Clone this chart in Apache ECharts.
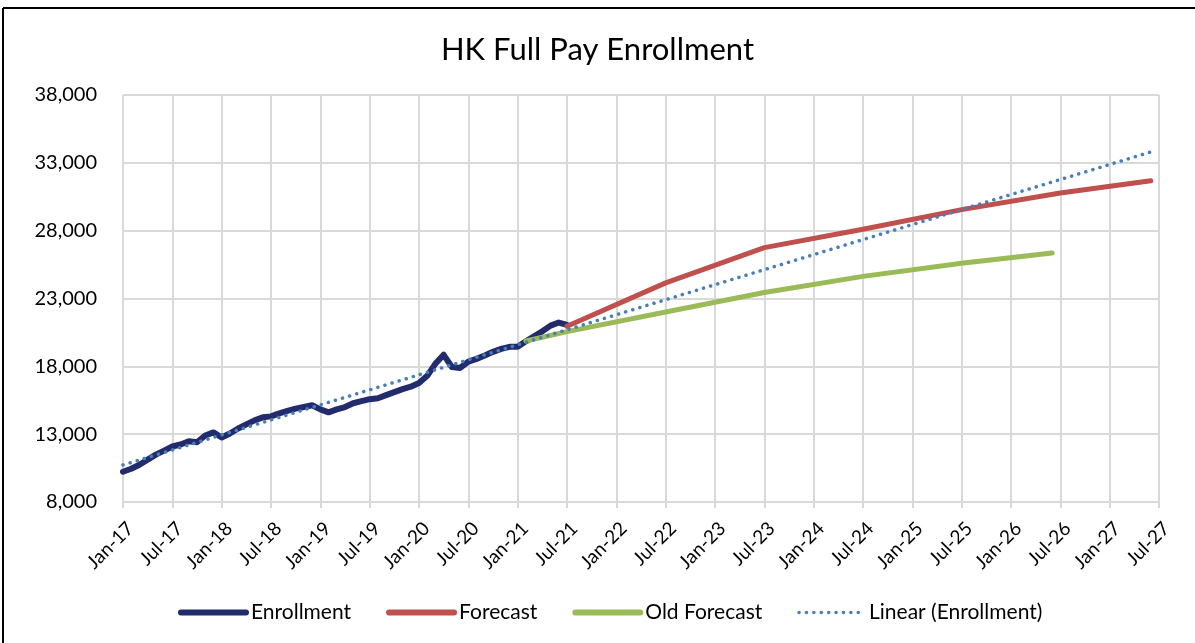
<!DOCTYPE html>
<html>
<head>
<meta charset="utf-8">
<script src="https://cdn.jsdelivr.net/npm/echarts@6/dist/echarts.min.js"></script>
<style>
html,body{margin:0;padding:0;background:#fff;}
#chart{width:1195px;height:643px;}
</style>
</head>
<body>
<div id="chart"></div>
<script>
// Monthly categories Jan-17 .. Jul-27
const monthNames = ['Jan','Feb','Mar','Apr','May','Jun','Jul','Aug','Sep','Oct','Nov','Dec'];
const categories = [];
for (let y = 17; y <= 27; y++) {
  for (let m = 0; m < 12; m++) {
    categories.push(monthNames[m] + '-' + y);
    if (y === 27 && m === 6) break;
  }
}

// Enrollment, monthly Jan-17 .. Jul-21
const enrollment = [
  10230, 10450, 10750, 11120, 11490, 11790, 12090, 12240, 12480, 12400, 12900, 13130,
  12750, 13050, 13420, 13720, 14020, 14240, 14310, 14530, 14710, 14880, 15000, 15130,
  14830, 14610, 14830, 15000, 15280, 15430, 15580, 15650, 15880, 16100, 16320, 16500,
  16770, 17300, 18200, 18850, 17950, 17880, 18350, 18550, 18800, 19070, 19290, 19440,
  19440, 19840, 20210, 20580, 21000, 21230, 21050
];

// Forecast points
const forecastDates = ['Jul-21', 'Jul-22', 'Jul-23', 'Jul-24', 'Jul-25', 'Jul-26', 'Jun-27'];
const forecastValues = [20950, 24150, 26750, 28100, 29550, 30780, 31680];

// Old forecast points
const oldForecastDates = ['Feb-21', 'Jul-21', 'Jul-22', 'Jul-23', 'Jul-24', 'Jul-25', 'Jun-26'];
const oldForecastValues = [19870, 20560, 22000, 23440, 24630, 25600, 26360];

// Linear trend (Enrollment) end points
const trendDates = ['Jan-17', 'Jun-27'];
const trendValues = [10730, 33800];

const yTicks = [8000, 38000, 5000]; // min, max, interval

const pair = (d, v) => d.map((x, i) => [x, v[i]]);

const NAVY = '#222B6B', RED = '#C0504D', GREEN = '#9BBB59', BLUE = '#4A7EBB';
const chart = echarts.init(document.getElementById('chart'));
const fontFam = 'Lato, "Liberation Sans", sans-serif';
chart.setOption({
  backgroundColor: '#fff',
  animation: false,
  title: {
    text: 'HK Full Pay Enrollment',
    left: 'center',
    top: 29,
    textStyle: { fontFamily: fontFam, fontSize: 31, fontWeight: 'normal', color: '#000' }
  },
  graphic: [
    { type: 'line', shape: { x1: 3, y1: 8, x2: 3, y2: 643 }, style: { stroke: '#000', lineWidth: 2 } },
    { type: 'line', shape: { x1: 3, y1: 8, x2: 1195, y2: 8 }, style: { stroke: '#000', lineWidth: 2 } }
  ],
  grid: { left: 123, right: 36, top: 95, bottom: 141, containLabel: false },
  legend: {
    top: 597,
    left: 173,
    itemWidth: 65,
    itemHeight: 10,
    itemGap: 35,
    itemStyle: { opacity: 0 },
    textStyle: { fontFamily: fontFam, fontSize: 21, color: '#000' },
    data: [
      { name: 'Enrollment', lineStyle: { width: 6, cap: 'round' } },
      { name: 'Forecast', lineStyle: { width: 6, cap: 'round' } },
      { name: 'Old Forecast', lineStyle: { width: 6, cap: 'round' } },
      { name: 'Linear (Enrollment)', lineStyle: { width: 3.5 } }
    ]
  },
  xAxis: {
    type: 'category',
    data: categories,
    boundaryGap: false,
    axisLine: { show: true, lineStyle: { color: '#D9D9D9', width: 2 } },
    axisTick: { show: true, interval: 5, length: 6, lineStyle: { color: '#D9D9D9', width: 2 } },
    axisLabel: {
      interval: 5, rotate: 45, margin: 16, verticalAlign: 'top', padding: [1, 0, 0, 0],
      fontFamily: fontFam, fontSize: 19, color: '#000'
    },
    splitLine: { show: true, interval: 5, lineStyle: { color: '#D9D9D9', width: 2 } }
  },
  yAxis: {
    type: 'value',
    min: yTicks[0], max: yTicks[1], interval: yTicks[2],
    axisLine: { show: false },
    axisTick: { show: false },
    axisLabel: {
      margin: 26, fontFamily: fontFam, fontSize: 20, color: '#000',
      formatter: v => v.toLocaleString('en-US')
    },
    splitLine: { show: true, lineStyle: { color: '#D9D9D9', width: 2 } }
  },
  series: [
    {
      name: 'Enrollment', type: 'line', data: enrollment, symbol: 'none',
      lineStyle: { color: NAVY, width: 6, cap: 'round', join: 'round' },
      itemStyle: { color: NAVY }
    },
    {
      name: 'Forecast', type: 'line', data: pair(forecastDates, forecastValues), symbol: 'none',
      lineStyle: { color: RED, width: 5, cap: 'round', join: 'round' },
      itemStyle: { color: RED }
    },
    {
      name: 'Old Forecast', type: 'line', data: pair(oldForecastDates, oldForecastValues), symbol: 'none',
      lineStyle: { color: GREEN, width: 5, cap: 'round', join: 'round' },
      itemStyle: { color: GREEN }
    },
    {
      name: 'Linear (Enrollment)', type: 'line', data: pair(trendDates, trendValues), symbol: 'none',
      lineStyle: { color: BLUE, width: 3.5, type: [0.1, 7.3], cap: 'round' },
      itemStyle: { color: BLUE }
    }
  ]
});
</script>
</body>
</html>
